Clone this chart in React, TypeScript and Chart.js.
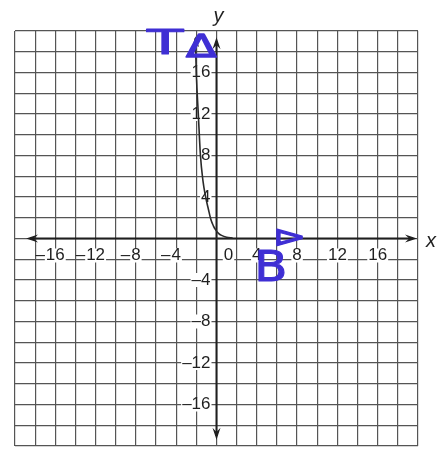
import React, { useEffect, useRef } from "react";
import { Chart, registerables } from "chart.js";

Chart.register(...registerables);

// Plot window and grid spacing
const X_MIN = -20;
const X_MAX = 20;
const Y_MIN = -20;
const Y_MAX = 20;
const GRID_STEP = 2;

// Printed axis numbers
const X_TICK_LABELS = [-16, -12, -8, -4, 0, 4, 8, 12, 16];
const Y_TICK_LABELS = [16, 12, 8, 4, -4, -8, -12, -16];

// Graphed curve
const CURVE_X = [-2.1, -2.0, -1.8, -1.6, -1.35, -1.1, -0.8, -0.55, -0.3, -0.1, 0.2, 0.5, 1.0, 1.6];
const CURVE_Y = [19.3, 15.8, 11.9, 8.1, 5.6, 4.1, 2.8, 1.8, 1.2, 0.85, 0.5, 0.3, 0.12, 0.04];

// Axis extents (where the arrowheads sit)
const X_AXIS_ENDS = [-18.9, 19.9];
const Y_AXIS_ENDS = [-19.4, 19.4];

// Handwritten ink notes
const NOTE_TEXTS = ["T", "Δ", "B", "Δ"];
const NOTE_X = [-5.1, -1.5, 5.4, 6.9];
const NOTE_Y = [18.6, 18.3, -3.0, 0.1];

const INK = "#3f2fd4";
const PRINT = "#1f1f1f";
const GRID = "#555555";
const NUM_FONT = '17px "Liberation Sans", Arial, sans-serif';

function arrowHead(ctx: CanvasRenderingContext2D, tx: number, ty: number, dx: number, dy: number, len: number, half: number) {
  const m = Math.hypot(dx, dy) || 1;
  const ux = dx / m;
  const uy = dy / m;
  const bx = tx - ux * len;
  const by = ty - uy * len;
  const nx = -uy;
  const ny = ux;
  ctx.beginPath();
  ctx.moveTo(tx, ty);
  ctx.lineTo(bx + nx * half, by + ny * half);
  ctx.lineTo(tx - ux * len * 0.65, ty - uy * len * 0.65);
  ctx.lineTo(bx - nx * half, by - ny * half);
  ctx.closePath();
  ctx.fill();
}

const axesPlugin = {
  id: "printedAxes",
  beforeDatasetsDraw(chart: any) {
    const { ctx } = chart;
    const xs = chart.scales.x;
    const ys = chart.scales.y;
    const x0 = xs.getPixelForValue(0);
    const y0 = ys.getPixelForValue(0);
    ctx.save();

    // axes
    ctx.strokeStyle = PRINT;
    ctx.fillStyle = PRINT;
    ctx.lineWidth = 2;
    const xl = xs.getPixelForValue(X_AXIS_ENDS[0]);
    const xr = xs.getPixelForValue(X_AXIS_ENDS[1]);
    const yb = ys.getPixelForValue(Y_AXIS_ENDS[0]);
    const yt = ys.getPixelForValue(Y_AXIS_ENDS[1]);
    ctx.beginPath();
    ctx.moveTo(xl + 4, y0);
    ctx.lineTo(xr - 4, y0);
    ctx.moveTo(x0, yt + 4);
    ctx.lineTo(x0, yb - 4);
    ctx.stroke();
    arrowHead(ctx, xl, y0, -1, 0, 12, 4);
    arrowHead(ctx, xr, y0, 1, 0, 12, 4);
    arrowHead(ctx, x0, yt, 0, -1, 12, 4);
    arrowHead(ctx, x0, yb, 0, 1, 12, 4);

    // numbers
    ctx.font = NUM_FONT;
    ctx.textBaseline = "middle";
    X_TICK_LABELS.forEach((v) => {
      const digits = String(Math.abs(v));
      const w = ctx.measureText(digits).width;
      const cx = v === 0 ? x0 + 12 : xs.getPixelForValue(v);
      const cy = y0 + 17;
      ctx.fillStyle = "#ffffff";
      ctx.fillRect(cx - w / 2 - 1, cy - 7, w + 2, 14);
      ctx.fillStyle = PRINT;
      ctx.textAlign = "center";
      ctx.fillText(digits, cx, cy);
      if (v < 0) {
        ctx.textAlign = "right";
        ctx.fillText("–", cx - w / 2 - 1, cy);
      }
    });
    Y_TICK_LABELS.forEach((v) => {
      const text = v < 0 ? "–" + Math.abs(v) : String(v);
      const w = ctx.measureText(text).width;
      const rx = x0 - 6;
      const cy = ys.getPixelForValue(v);
      ctx.fillStyle = "#ffffff";
      ctx.fillRect(rx - w - 1, cy - 7, w + 2, 14);
      ctx.fillStyle = PRINT;
      ctx.textAlign = "right";
      ctx.fillText(text, rx, cy);
    });

    // axis names
    ctx.font = 'italic 20px "Liberation Sans", Arial, sans-serif';
    ctx.textAlign = "center";
    ctx.fillText("x", chart.chartArea.right + 13, y0 + 3);
    ctx.fillText("y", x0 + 2, chart.chartArea.top - 15);
    ctx.restore();
  },
  afterDatasetsDraw(chart: any) {
    const { ctx } = chart;
    const xs = chart.scales.x;
    const ys = chart.scales.y;
    ctx.save();

    // arrowhead on the upper end of the curve
    const tx = xs.getPixelForValue(CURVE_X[0]);
    const ty = ys.getPixelForValue(CURVE_Y[0]);
    const px = xs.getPixelForValue(CURVE_X[1]);
    const py = ys.getPixelForValue(CURVE_Y[1]);
    ctx.fillStyle = PRINT;
    arrowHead(ctx, tx, ty - 2, tx - px, ty - py, 11, 3.5);

    // ink notes
    ctx.fillStyle = INK;
    ctx.strokeStyle = INK;
    ctx.lineJoin = "round";
    ctx.textAlign = "center";
    ctx.textBaseline = "middle";
    NOTE_TEXTS.forEach((t, i) => {
      const cx = xs.getPixelForValue(NOTE_X[i]);
      const cy = ys.getPixelForValue(NOTE_Y[i]);
      ctx.save();
      ctx.translate(cx, cy);
      if (i === 0) {
        ctx.scale(1.75, 1);
        ctx.font = '34px "DejaVu Sans", sans-serif';
        ctx.lineWidth = 1;
      } else if (i === 1) {
        ctx.scale(1.4, 1);
        ctx.font = '32px "DejaVu Sans", sans-serif';
        ctx.lineWidth = 1.5;
      } else if (i === 2) {
        ctx.scale(1.15, 1);
        ctx.font = '42px "DejaVu Sans", sans-serif';
        ctx.lineWidth = 1;
      } else {
        ctx.rotate(Math.PI / 2);
        ctx.scale(0.82, 1.14);
        ctx.font = '30px "DejaVu Sans", sans-serif';
        ctx.lineWidth = 1.5;
      }
      ctx.fillText(t, 0, 0);
      ctx.strokeText(t, 0, 0);
      ctx.restore();
    });
    ctx.restore();
  },
};

export default function App() {
  const ref = useRef<HTMLCanvasElement | null>(null);

  useEffect(() => {
    if (!ref.current) return;
    const chart = new Chart(ref.current, {
      type: "scatter",
      data: {
        datasets: [
          {
            data: CURVE_X.map((x, i) => ({ x, y: CURVE_Y[i] })),
            showLine: true,
            borderColor: "#2a2a2a",
            borderWidth: 1.6,
            pointRadius: 0,
            cubicInterpolationMode: "monotone",
          },
        ],
      },
      options: {
        animation: false,
        responsive: false,
        events: [],
        layout: { padding: { left: 15, right: 23, top: 31, bottom: 5 } },
        plugins: { legend: { display: false }, tooltip: { enabled: false } },
        scales: {
          x: {
            type: "linear",
            min: X_MIN,
            max: X_MAX,
            ticks: { display: false, stepSize: GRID_STEP, maxTicksLimit: 100 },
            grid: { color: GRID, lineWidth: 1.2, drawTicks: false },
            border: { display: false },
          },
          y: {
            type: "linear",
            min: Y_MIN,
            max: Y_MAX,
            ticks: { display: false, stepSize: GRID_STEP, maxTicksLimit: 100 },
            grid: { color: GRID, lineWidth: 1.2, drawTicks: false },
            border: { display: false },
          },
        },
      },
      plugins: [axesPlugin],
    });
    return () => chart.destroy();
  }, []);

  return (
    <div style={{ position: "fixed", left: 0, top: 0, width: 441, height: 451, background: "#ffffff" }}>
      <canvas ref={ref} width={441} height={451} style={{ display: "block" }} />
    </div>
  );
}
